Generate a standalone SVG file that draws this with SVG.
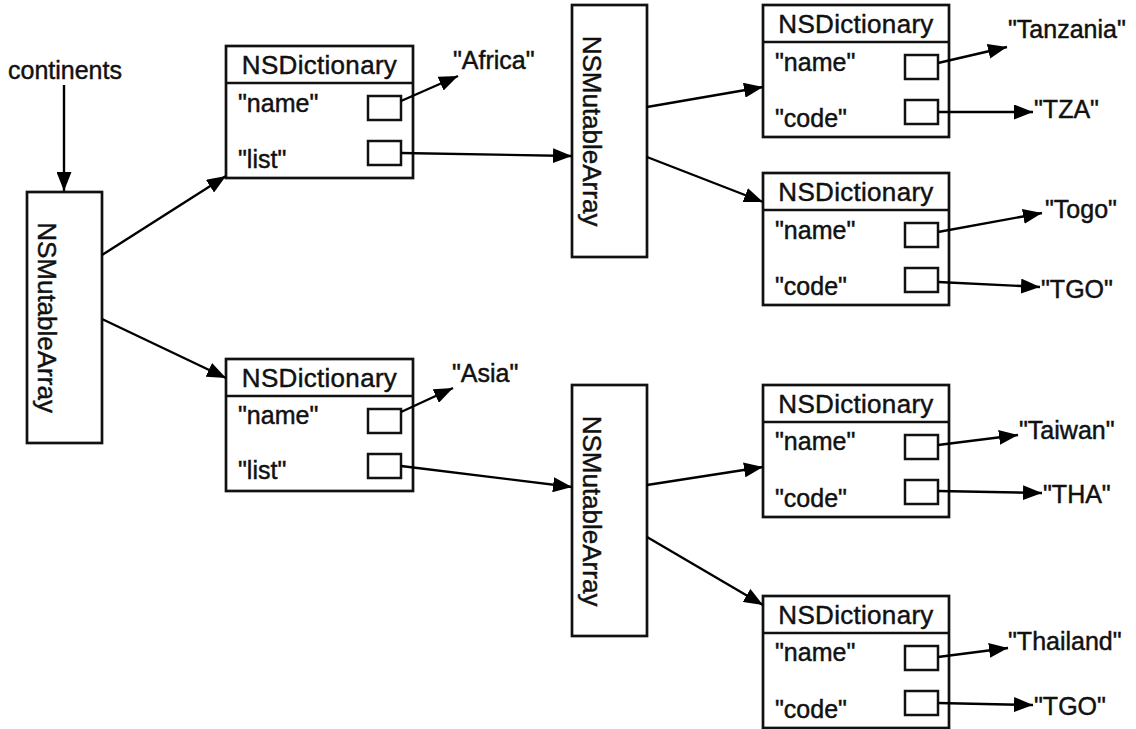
<svg xmlns="http://www.w3.org/2000/svg" width="1136" height="729" viewBox="0 0 1136 729">
<defs>
<marker id="ah" markerUnits="userSpaceOnUse" markerWidth="20" markerHeight="15" refX="19" refY="7.5" orient="auto">
<path d="M0,0 L19,7.5 L0,15 z" fill="#000"/>
</marker>
</defs>
<style>
text{font-family:"Liberation Sans",Arial,sans-serif;fill:#111;stroke:#111;stroke-width:0.45px;}
.box{fill:#fff;stroke:#111;stroke-width:2.7;}
.slot{fill:#fff;stroke:#111;stroke-width:2.5;}
.div{stroke:#111;stroke-width:2.5;}
.title{font-size:26px;text-anchor:middle;letter-spacing:0.3px;}
.lbl{font-size:25px;}
.arr{font-size:26px;text-anchor:middle;}
.conn line{stroke:#000;stroke-width:2.4;marker-end:url(#ah);}
</style>
<rect width="1136" height="729" fill="#fff"/>

<g id="continents-label"><text class="lbl" x="8" y="79">continents</text></g>

<g id="array-root">
<rect class="box" x="27" y="192" width="75" height="251"/>
<text class="arr" transform="translate(38,317.5) rotate(90)">NSMutableArray</text>
</g>

<g id="dict-africa">
<rect class="box" x="226" y="46" width="187" height="132"/>
<line class="div" x1="226" y1="83" x2="413" y2="83"/>
<text class="title" x="319.5" y="73.5">NSDictionary</text>
<text class="lbl" x="238" y="112">"name"</text>
<text class="lbl" x="238" y="168">"list"</text>
<rect class="slot" x="368" y="96" width="33" height="24"/>
<rect class="slot" x="368" y="141" width="33" height="24"/>
</g>

<g id="dict-asia">
<rect class="box" x="226" y="359" width="187" height="132"/>
<line class="div" x1="226" y1="396" x2="413" y2="396"/>
<text class="title" x="319.5" y="386.5">NSDictionary</text>
<text class="lbl" x="238" y="424">"name"</text>
<text class="lbl" x="238" y="479">"list"</text>
<rect class="slot" x="368" y="409" width="33" height="24"/>
<rect class="slot" x="368" y="454" width="33" height="24"/>
</g>

<g id="array-africa">
<rect class="box" x="572" y="5" width="75" height="252"/>
<text class="arr" transform="translate(582.5,131) rotate(90)">NSMutableArray</text>
</g>

<g id="array-asia">
<rect class="box" x="572" y="385" width="75" height="251"/>
<text class="arr" transform="translate(582.5,511) rotate(90)">NSMutableArray</text>
</g>

<g id="dict-tanzania">
<rect class="box" x="763" y="5" width="186" height="132"/>
<line class="div" x1="763" y1="42" x2="949" y2="42"/>
<text class="title" x="856" y="32.5">NSDictionary</text>
<text class="lbl" x="775" y="71">"name"</text>
<text class="lbl" x="775" y="127">"code"</text>
<rect class="slot" x="905" y="55" width="33" height="24"/>
<rect class="slot" x="905" y="100" width="33" height="24"/>
</g>

<g id="dict-togo">
<rect class="box" x="763" y="173" width="186" height="132"/>
<line class="div" x1="763" y1="210" x2="949" y2="210"/>
<text class="title" x="856" y="200.5">NSDictionary</text>
<text class="lbl" x="775" y="239">"name"</text>
<text class="lbl" x="775" y="295">"code"</text>
<rect class="slot" x="905" y="223" width="33" height="24"/>
<rect class="slot" x="905" y="268" width="33" height="24"/>
</g>

<g id="dict-taiwan">
<rect class="box" x="763" y="385" width="186" height="132"/>
<line class="div" x1="763" y1="422" x2="949" y2="422"/>
<text class="title" x="856" y="412.5">NSDictionary</text>
<text class="lbl" x="775" y="450">"name"</text>
<text class="lbl" x="775" y="507">"code"</text>
<rect class="slot" x="905" y="435" width="33" height="24"/>
<rect class="slot" x="905" y="480" width="33" height="24"/>
</g>

<g id="dict-thailand">
<rect class="box" x="763" y="596" width="186" height="132"/>
<line class="div" x1="763" y1="633" x2="949" y2="633"/>
<text class="title" x="856" y="623.5">NSDictionary</text>
<text class="lbl" x="775" y="661">"name"</text>
<text class="lbl" x="775" y="718">"code"</text>
<rect class="slot" x="905" y="646" width="33" height="24"/>
<rect class="slot" x="905" y="691" width="33" height="24"/>
</g>

<g id="values">
<text class="lbl" x="453" y="69">"Africa"</text>
<text class="lbl" x="452" y="382">"Asia"</text>
<text class="lbl" x="1008" y="38">"Tanzania"</text>
<text class="lbl" x="1034" y="118">"TZA"</text>
<text class="lbl" x="1045" y="218">"Togo"</text>
<text class="lbl" x="1041" y="298">"TGO"</text>
<text class="lbl" x="1019" y="439">"Taiwan"</text>
<text class="lbl" x="1043" y="503">"THA"</text>
<text class="lbl" x="1008" y="650">"Thailand"</text>
<text class="lbl" x="1034" y="715">"TGO"</text>
</g>

<g id="connectors" class="conn">
<line x1="64" y1="85" x2="64" y2="191"/>
<line x1="102" y1="255" x2="226" y2="176"/>
<line x1="102" y1="319" x2="226" y2="378"/>
<line x1="401" y1="101" x2="458" y2="76"/>
<line x1="401" y1="153" x2="572" y2="156"/>
<line x1="401" y1="412" x2="453" y2="388"/>
<line x1="401" y1="466" x2="572" y2="487"/>
<line x1="647" y1="107" x2="763" y2="87"/>
<line x1="647" y1="157" x2="763" y2="202"/>
<line x1="938" y1="63" x2="1007" y2="47"/>
<line x1="938" y1="112" x2="1033" y2="112"/>
<line x1="938" y1="232" x2="1042" y2="213"/>
<line x1="938" y1="282" x2="1040" y2="287"/>
<line x1="647" y1="485" x2="763" y2="467"/>
<line x1="647" y1="537" x2="763" y2="605"/>
<line x1="938" y1="445" x2="1018" y2="435"/>
<line x1="938" y1="491" x2="1042" y2="493"/>
<line x1="938" y1="657" x2="1008" y2="648"/>
<line x1="938" y1="703" x2="1033" y2="705"/>
</g>
</svg>
